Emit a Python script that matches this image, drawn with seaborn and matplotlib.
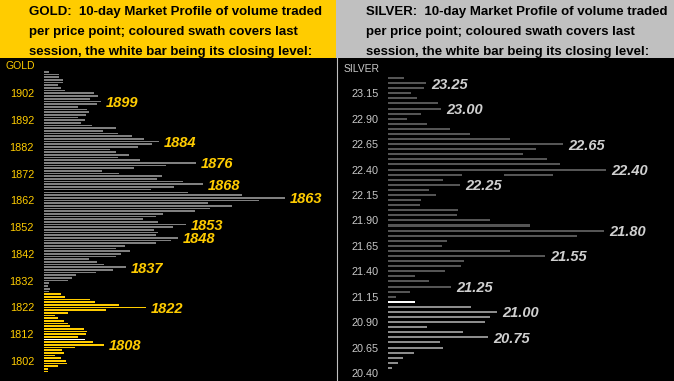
import numpy as np
import pandas as pd
import matplotlib
matplotlib.use("Agg")
import matplotlib.pyplot as plt
from matplotlib.patches import Rectangle
from matplotlib.lines import Line2D
import seaborn as sns

W, H = 674, 381

# ---- gold: 10-day volume profile, one bar per dollar, 1910 down to 1798
gold_prices = list(range(1910, 1797, -1))
gold_volume = [5, 15, 15, 19, 19, 14, 17, 21, 50, 54, 46, 57, 53, 34, 43, 45, 42, 34,
               41, 37, 48, 72, 59, 74, 88, 100, 115, 108, 94, 66, 72, 85, 74, 96, 152, 122,
               90, 58, 75, 118, 113, 139, 159, 130, 107, 144, 198, 241, 215, 164, 188, 166,
               151, 119, 112, 99, 114, 142, 129, 110, 114, 112, 134, 127, 112, 81, 72, 86,
               77, 72, 45, 53, 60, 82, 69, 52, 32, 28, 24, 5, 4, 6, 5,
               17, 21, 46, 51, 75, 102, 62, 24, 11, 14, 20, 24, 26, 40, 43, 42, 34, 41,
               49, 60, 31, 18, 20, 11, 17, 22, 23, 14, 4, 4]
gold_swath_top = 1827
gold_close = 1810
gold_labels = [1899, 1884, 1876, 1868, 1863, 1853, 1848, 1837, 1822, 1808]
gold_ticks = [1902, 1892, 1882, 1872, 1862, 1852, 1842, 1832, 1822, 1812, 1802]

# ---- silver: one bar per 5 cents, 23.30 down to 20.45
silver_prices = [round(p / 100, 2) for p in range(2330, 2044, -5)]
silver_volume = [16, 38, 36, 23, 29, 50, 53, 33, 19, 39,
                 62, 82, 122, 175, 148, 135, 159, 172, 218, 74,
                 55, 72, 41, 48, 33, 32, 70, 69, 102, 142,
                 216, 189, 59, 54, 122, 157, 76, 73, 57, 27,
                 41, 63, 22, 8, 27, 83, 109, 102, 97, 39,
                 75, 100, 52, 55, 26, 15, 10, 4]
silver_split = (22.35, 116, 165)  # second piece of the broken 22.35 bar
silver_swath_top = 21.05
silver_close = 21.10
silver_labels = [23.25, 23.00, 22.65, 22.40, 22.25, 21.80, 21.55, 21.25, 21.00, 20.75]
silver_ticks = [23.15, 22.90, 22.65, 22.40, 22.15, 21.90, 21.65, 21.40, 21.15, 20.90, 20.65, 20.40]

GOLD_C = "#FFCC00"
SILVER_HDR = "#C0C0C0"

HEADER = ["{}:  10-day Market Profile of volume traded",
          "per price point; coloured swath covers last",
          "session, the white bar being its closing level:"]


def fx(px):
    return px / W


def fy(py):
    return 1 - py / H


def profile(ax, prices, volume, swath_top, close, palette, bar_w):
    df = pd.DataFrame({"price": prices, "volume": volume})
    df["kind"] = np.where(np.isclose(df["price"], close), "close",
                          np.where(df["price"] <= swath_top + 1e-9, "swath", "prior"))
    sns.barplot(data=df, x="volume", y="price", hue="kind", palette=palette,
                orient="h", native_scale=True, dodge=False, width=bar_w,
                saturation=1, errorbar=None, legend=False, ax=ax,
                antialiased=False, linewidth=0)
    return df


plt.rcParams["font.family"] = ["Liberation Sans", "DejaVu Sans"]
fig = plt.figure(figsize=(W / 100, H / 100), dpi=100, facecolor="black")

# headers
fig.add_artist(Rectangle((0, fy(58)), fx(336), 58 / H, transform=fig.transFigure,
                         facecolor=GOLD_C, edgecolor="none"))
fig.add_artist(Rectangle((fx(336), fy(58)), fx(338), 58 / H, transform=fig.transFigure,
                         facecolor=SILVER_HDR, edgecolor="none"))
fig.add_artist(Line2D([fx(336.5)] * 2, [0, fy(58)], transform=fig.transFigure,
                      color="#C0C0C0", lw=0.8))
for x0, name in [(29, "GOLD"), (366, "SILVER")]:
    for i, line in enumerate(HEADER):
        fig.text(fx(x0), fy(15.5 + 19.5 * i), line.format(name), color="black",
                 fontsize=9.5, fontweight="bold", va="baseline", ha="left")

# gold panel
axg = fig.add_axes([fx(44), 0, fx(292), (H - 58) / H])
profile(axg, gold_prices, gold_volume, gold_swath_top, gold_close,
        {"prior": "#808080", "swath": GOLD_C, "close": "white"}, 0.62)
axg.set_xlim(0, 292)
axg.set_ylim(1794.5, 1915.2)
axg.set_yticks(gold_ticks)
axg.set_yticklabels([str(t) for t in gold_ticks])
for p in gold_labels:
    v = gold_volume[gold_prices.index(p)]
    axg.annotate(str(p), xy=(v, p), xytext=(3.5, -1), textcoords="offset points",
                 color=GOLD_C, fontsize=10.5, fontweight="bold", fontstyle="italic",
                 va="center", ha="left")
fig.text(fx(6), fy(66), "GOLD", color=GOLD_C, fontsize=7.5, va="center", ha="left")

# silver panel
axs = fig.add_axes([fx(388), 0, fx(286), (H - 58) / H])
profile(axs, silver_prices, silver_volume, silver_swath_top, silver_close,
        {"prior": "#555555", "swath": "#8C8C8C", "close": "white"}, 0.4)
axs.barh(silver_split[0], silver_split[2] - silver_split[1], left=silver_split[1],
         height=0.02, color="#555555", antialiased=False, linewidth=0)
axs.set_xlim(0, 286)
axs.set_ylim(20.321, 23.497)
axs.set_yticks(silver_ticks)
axs.set_yticklabels([f"{t:.2f}" for t in silver_ticks])
for p in silver_labels:
    v = silver_volume[silver_prices.index(p)]
    axs.annotate(f"{p:.2f}", xy=(v, p), xytext=(3.5, -1), textcoords="offset points",
                 color="#CFCFCF", fontsize=10.5, fontweight="bold", fontstyle="italic",
                 va="center", ha="left")
fig.text(fx(344), fy(69), "SILVER", color="#C8C8C8", fontsize=7.5, va="center", ha="left")

for ax, col, pad in [(axg, GOLD_C, 7.2), (axs, "#C8C8C8", 6.7)]:
    ax.set_facecolor("black")
    for s in ax.spines.values():
        s.set_visible(False)
    ax.set_xticks([])
    ax.set_xlabel("")
    ax.set_ylabel("")
    ax.tick_params(axis="y", length=0, pad=pad, labelcolor=col, labelsize=7.8)

fig.savefig("out.png", dpi=100, facecolor="black")
